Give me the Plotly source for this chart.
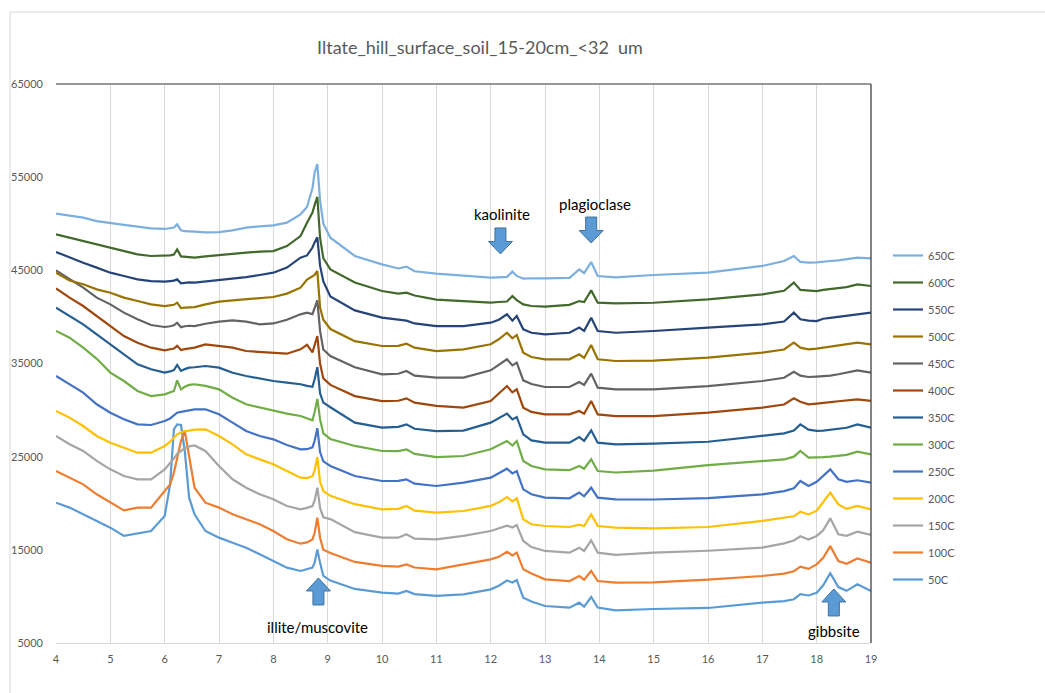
import plotly.graph_objects as go

# 2-theta positions (degrees) shared by every pattern
two_theta = [4.0, 4.25, 4.5, 4.75, 5.0, 5.25, 5.5, 5.75, 6.0, 6.1, 6.17, 6.23, 6.3, 6.37, 6.45, 6.55,
             6.75, 7.0, 7.25, 7.5, 7.75, 8.0, 8.25, 8.5, 8.62, 8.72, 8.76, 8.81, 8.86, 8.92, 9.05, 9.5,
             10.0, 10.3, 10.45, 10.6, 11.0, 11.5, 12.0, 12.15, 12.3, 12.4, 12.48, 12.6, 12.75, 13.0,
             13.45, 13.63, 13.72, 13.85, 13.97, 14.3, 15.0, 16.0, 17.0, 17.4, 17.58, 17.7, 17.85,
             18.0, 18.12, 18.25, 18.4, 18.55, 18.75, 19.0]

# Intensities (counts, stacked with offsets) for each heating temperature
i_50C = [20060, 19530, 18810, 18100, 17380, 16490, 16740, 17020, 18630, 22030, 27940, 28470, 28400, 25610, 20600, 18810,
         17020, 16310, 15770, 15230, 14520, 13800, 13090, 12730, 12900, 13100, 13600, 15050, 13600, 12200, 11700, 10800,
         10400, 10300, 10580, 10250, 10050, 10220, 10760, 11150, 11700, 11500, 11760, 9870, 9450, 8970,
         8790, 9330, 8900, 9940, 8800, 8510, 8650, 8760, 9330, 9500, 9700, 10250, 10100,
         10400, 11200, 12500, 11000, 10600, 11300, 10580]
i_100C = [23460, 22750, 22030, 20960, 20060, 19240, 19530, 19530, 21320, 22030, 23280, 24890, 26680, 27760, 24890, 21670,
          20060, 19530, 18810, 18270, 17740, 17020, 16130, 15660, 15800, 16100, 16800, 18450, 16300, 15000, 14650, 13700,
          13270, 13200, 13440, 13100, 12910, 13440, 13980, 14250, 14800, 14400, 14700, 12910, 12450, 11830,
          11650, 12190, 11800, 12730, 11650, 11480, 11500, 11800, 12190, 12450, 12700, 13200, 12950,
          13440, 14150, 15400, 13800, 13500, 14080, 13620]
i_150C = [27220, 26330, 25610, 24540, 23640, 22930, 22570, 22570, 23640, 24300, 24800, 25300, 25600, 25900, 26100, 26200,
          25610, 24000, 22570, 21670, 20960, 20420, 19710, 19350, 19500, 19700, 20300, 21670, 19500, 18500, 18300, 16900,
          16310, 16300, 16670, 16200, 16130, 16490, 17020, 17300, 17600, 17400, 17670, 15950, 15300, 14880,
          14700, 15230, 14880, 16020, 14700, 14450, 14700, 14900, 15230, 15700, 16000, 16450, 16100,
          16490, 17100, 18380, 16670, 16500, 16950, 16600]
i_200C = [29900, 29190, 28290, 27220, 26500, 25970, 25430, 25430, 26150, 26600, 27000, 27400, 27600, 27750, 27800, 27900,
          27940, 27220, 26320, 25250, 24710, 24180, 23460, 22750, 22700, 22900, 23500, 24950, 22300, 21300, 20800, 19900,
          19350, 19400, 19710, 19200, 18990, 19170, 19710, 20100, 20670, 20200, 20530, 18270, 17740, 17560,
          17450, 17700, 17560, 18810, 17560, 17380, 17300, 17450, 18100, 18400, 18600, 19100, 18800,
          19200, 20100, 21140, 19880, 19400, 19710, 19350]
i_250C = [33660, 32770, 31870, 30620, 29720, 29010, 28470, 28400, 28830, 29100, 29400, 29720, 29800, 29900, 30000, 30080,
          30080, 29550, 28650, 27760, 27220, 26860, 26250, 25790, 25800, 26000, 26700, 28050, 25500, 24500, 24000, 22920,
          22390, 22400, 22570, 22100, 21850, 22210, 22750, 23200, 23710, 23200, 23460, 21490, 20960, 20600,
          20530, 21140, 20750, 21670, 20600, 20420, 20400, 20550, 20960, 21300, 21600, 22390, 21850,
          22300, 22900, 23640, 22570, 22300, 22470, 22210]
i_300C = [38500, 37770, 36700, 35500, 34020, 33120, 32050, 31510, 31690, 31900, 32050, 33190, 32230, 32500, 32700, 32770,
          32590, 32230, 31330, 30620, 30260, 29900, 29620, 29370, 29100, 28900, 29800, 31200, 29000, 27500, 26900, 26150,
          25610, 25600, 25790, 25300, 24950, 25070, 25790, 26200, 26680, 26200, 26680, 24540, 24000, 23640,
          23550, 24000, 23700, 24720, 23460, 23300, 23500, 24100, 24550, 24700, 25000, 25610, 24900,
          24900, 24950, 25000, 25070, 25200, 25540, 25250]
i_350C = [41000, 40100, 39200, 38130, 37060, 35980, 34910, 34380, 34020, 34150, 34300, 34840, 34200, 34400, 34550, 34600,
          34730, 34550, 34000, 33660, 33400, 33120, 32950, 32770, 32600, 32500, 33300, 34600, 31800, 30800, 30300, 28650,
          28110, 28200, 28470, 28000, 27750, 27800, 28650, 29100, 29620, 29000, 29260, 27400, 26750, 26500,
          26500, 27100, 26700, 27830, 26500, 26330, 26400, 26600, 27220, 27500, 27800, 28470, 27900,
          27760, 27800, 27900, 27950, 28100, 28470, 28110]
i_400C = [43070, 42070, 41170, 40100, 39020, 37950, 37230, 36700, 36410, 36500, 36600, 36900, 36450, 36550, 36650, 36700,
          37050, 36870, 36700, 36340, 36250, 36160, 36050, 36520, 37000, 36200, 37000, 37950, 35000, 33400, 32700, 31500,
          30970, 31000, 31260, 30800, 30450, 30260, 30970, 31800, 32580, 31900, 32230, 30260, 29800, 29540,
          29540, 29900, 29600, 30970, 29540, 29360, 29360, 29720, 30260, 30600, 31260, 30900, 30620,
          30700, 30800, 30850, 30950, 31050, 31150, 30980]
i_450C = [45000, 44030, 43140, 42070, 41350, 40460, 39740, 39130, 38920, 39000, 39100, 39380, 38900, 39000, 39050, 39020,
          39270, 39490, 39630, 39490, 39200, 39300, 39700, 40280, 40450, 40300, 41000, 41780, 38500, 36500, 35800, 34600,
          33840, 33900, 34190, 33700, 33480, 33480, 34270, 34900, 35450, 34800, 35090, 33190, 32800, 32480,
          32480, 33010, 32700, 33910, 32400, 32230, 32230, 32580, 33120, 33470, 34120, 33700, 33550,
          33600, 33650, 33700, 33850, 34000, 34270, 34020]
i_500C = [44750, 43900, 43500, 42960, 42600, 42070, 41710, 41350, 41170, 41200, 41300, 41530, 40950, 41000, 41050, 41060,
          41350, 41640, 41780, 41890, 42000, 42140, 42500, 43140, 44000, 44300, 44500, 44930, 41000, 39700, 38700, 37400,
          36880, 36900, 37130, 36700, 36340, 36520, 37060, 37600, 38310, 37700, 38060, 36160, 35700, 35450,
          35450, 35980, 35600, 36990, 35450, 35270, 35300, 35630, 36160, 36500, 37240, 36700, 36520,
          36600, 36700, 36800, 36950, 37050, 37240, 37060]
i_550C = [46970, 46360, 45820, 45290, 44750, 44390, 44030, 43850, 43780, 43850, 43900, 44030, 43600, 43650, 43700, 43680,
          43800, 43930, 44100, 44280, 44500, 44750, 45300, 46360, 46600, 47450, 48000, 48550, 45500, 43800, 42200, 40700,
          39920, 39700, 39600, 39300, 39020, 39020, 39380, 39700, 40280, 39600, 40100, 38670, 38300, 38130,
          38300, 38850, 38500, 39920, 38490, 38300, 38490, 38850, 39200, 39500, 40460, 39750, 39600,
          39560, 39800, 39900, 40000, 40150, 40280, 40460]
i_600C = [48860, 48510, 48150, 47790, 47430, 47070, 46720, 46540, 46540, 46600, 46700, 47250, 46500, 46450, 46400, 46360,
          46500, 46650, 46800, 46900, 47000, 47070, 47600, 48680, 50100, 51200, 52000, 52900, 48500, 46300, 45100, 43700,
          42780, 42500, 42600, 42300, 41850, 41710, 41530, 41600, 41650, 42250, 41800, 41350, 41170, 41100,
          41300, 41700, 41600, 42850, 41530, 41450, 41520, 41890, 42420, 42800, 43680, 42900, 42800,
          42780, 42900, 43000, 43100, 43200, 43500, 43320]
i_650C = [51080, 50830, 50650, 50290, 50120, 49870, 49690, 49510, 49440, 49500, 49600, 49940, 49300, 49200, 49150, 49150,
          49080, 49110, 49290, 49580, 49720, 49830, 50120, 51010, 51800, 53800, 55500, 56400, 52500, 50000, 48500, 46540,
          45640, 45200, 45400, 44900, 44640, 44390, 44210, 44250, 44300, 44860, 44400, 44100, 44150, 44140,
          44200, 45100, 44700, 45890, 44390, 44250, 44500, 44750, 45470, 46000, 46540, 45900, 45820,
          45850, 45950, 46000, 46070, 46200, 46360, 46290]

series_names = ["50C", "100C", "150C", "200C", "250C", "300C", "350C",
                "400C", "450C", "500C", "550C", "600C", "650C"]
series_values = [i_50C, i_100C, i_150C, i_200C, i_250C, i_300C, i_350C,
                 i_400C, i_450C, i_500C, i_550C, i_600C, i_650C]
series_colors = ["#5B9BD5", "#ED7D31", "#A5A5A5", "#FFC000", "#4472C4", "#70AD47", "#255E91",
                 "#9E480E", "#636363", "#997300", "#264478", "#43682B", "#7CAFDD"]

# Mineral labels: (text, x, y) in data units
mineral_labels = [("kaolinite", 12.21, 51050),
                  ("plagioclase", 13.92, 52070),
                  ("illite/muscovite", 8.816, 6770),
                  ("gibbsite", 18.316, 6240)]
# Block arrows: (x centre, y of the flat end or tip, direction)
mineral_arrows = [(12.18, 49550, "down"),
                  (13.85, 50720, "down"),
                  (8.83, 11980, "up"),
                  (18.316, 10800, "up")]

X_MIN, X_MAX = 4, 19
Y_MIN, Y_MAX = 5000, 65000
W, H = 1045, 693
M_L, M_R, M_T, M_B = 56, 174, 84, 50
PLOT_W = W - M_L - M_R
PLOT_H = H - M_T - M_B
XU = (X_MAX - X_MIN) / PLOT_W   # data units per pixel
YU = (Y_MAX - Y_MIN) / PLOT_H

for vals in series_values:
    assert len(vals) == len(two_theta)

fig = go.Figure()
n = len(series_names)
for k, (name, vals, color) in enumerate(zip(series_names, series_values, series_colors)):
    # hottest pattern listed first in the legend
    fig.add_trace(go.Scatter(
        x=two_theta, y=vals, mode="lines", name=name, legendgroup=name,
        legendrank=n - k, line=dict(color=color, width=2.2)))


def block_arrow(xc, y0, direction):
    """Block arrow path: shaft 11 px wide, head 24 px wide, 26 px long."""
    if direction == "down":
        pts = [(-5.5, 0), (5.5, 0), (5.5, 13.5), (12, 13.5), (0, 26), (-12, 13.5), (-5.5, 13.5)]
    else:
        pts = [(0, 0), (12, 13), (5.5, 13), (5.5, 27), (-5.5, 27), (-5.5, 13), (-12, 13)]
    coords = [(xc + dx * XU, y0 - dy * YU) for dx, dy in pts]
    return "M " + " L ".join(f"{x:.5f},{y:.2f}" for x, y in coords) + " Z"


shapes = []
for xc, y0, direction in mineral_arrows:
    shapes.append(dict(type="path", xref="x", yref="y", path=block_arrow(xc, y0, direction),
                       fillcolor="#5B9BD5", line=dict(color="#41719C", width=1)))

# top and right frame lines of the plot area
shapes.append(dict(type="line", xref="paper", yref="paper", x0=0, x1=1, y0=1, y1=1,
                   line=dict(color="#767676", width=1.6)))
shapes.append(dict(type="line", xref="paper", yref="paper", x0=1, x1=1, y0=0, y1=1,
                   line=dict(color="#404040", width=1.3)))
# chart area border
shapes.append(dict(type="rect", xref="paper", yref="paper",
                   x0=(10 - M_L) / PLOT_W, x1=(W + 20 - M_L) / PLOT_W,
                   y0=-(M_B + 20) / PLOT_H, y1=1 + (M_T - 12) / PLOT_H,
                   line=dict(color="#D9D9D9", width=1)))

annotations = [dict(text=t, x=x, y=y, xref="x", yref="y", showarrow=False,
                    font=dict(family="Lato", size=15, color="#000000"))
               for t, x, y in mineral_labels]

fig.update_layout(
    width=W, height=H,
    margin=dict(l=M_L, r=M_R, t=M_T, b=M_B),
    paper_bgcolor="white", plot_bgcolor="white",
    font=dict(family="Lato", color="#595959"),
    title=dict(text="Iltate_hill_surface_soil_15-20cm_<32  um",
               x=480 / W, xanchor="center", y=1 - 48 / H, yanchor="middle",
               font=dict(family="Lato", size=18, color="#595959")),
    xaxis=dict(range=[X_MIN, X_MAX], dtick=1, tick0=4, showgrid=True, gridcolor="#D9D9D9",
               gridwidth=1, showline=True, linecolor="#D9D9D9", linewidth=1, zeroline=False,
               ticks="", ticklabelstandoff=6, tickfont=dict(size=11, color="#595959")),
    yaxis=dict(range=[Y_MIN, Y_MAX], dtick=10000, tick0=5000, tickformat="d", showgrid=False,
               showline=False, zeroline=False, ticks="", ticklabelstandoff=12,
               tickfont=dict(size=11, color="#595959")),
    legend=dict(x=(888 - M_L) / PLOT_W, xanchor="left", y=1 - (241 - M_T) / PLOT_H, yanchor="top",
                traceorder="grouped", tracegroupgap=8, bgcolor="rgba(0,0,0,0)",
                font=dict(size=11, color="#595959")),
    shapes=shapes,
    annotations=annotations,
)

fig.write_html("out.html")
